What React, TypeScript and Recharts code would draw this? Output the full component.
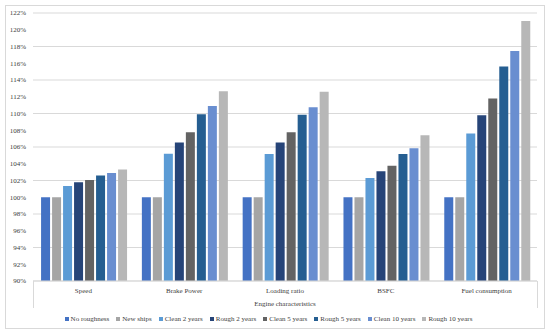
import React from "react";
import { BarChart, Bar, XAxis, YAxis, CartesianGrid, Legend } from "recharts";

const categories = ["Speed", "Brake Power", "Loading ratio", "BSFC", "Fuel consumption"];
const noRoughness = [100, 100, 100, 100, 100];
const newShips = [100, 100, 100, 100, 100];
const clean2 = [101.35, 105.2, 105.15, 102.3, 107.6];
const rough2 = [101.8, 106.55, 106.55, 103.1, 109.8];
const clean5 = [102.05, 107.75, 107.75, 103.75, 111.8];
const rough5 = [102.6, 109.9, 109.85, 105.15, 115.6];
const clean10 = [102.9, 110.9, 110.75, 105.85, 117.45];
const rough10 = [103.3, 112.65, 112.6, 107.4, 121.05];
const yTicks = [90, 92, 94, 96, 98, 100, 102, 104, 106, 108, 110, 112, 114, 116, 118, 120, 122];

const seriesDefs = [
  { key: "noRoughness", name: "No roughness", values: noRoughness, color: "#4472C4" },
  { key: "newShips", name: "New ships", values: newShips, color: "#A5A5A5" },
  { key: "clean2", name: "Clean 2 years", values: clean2, color: "#5B9BD5" },
  { key: "rough2", name: "Rough 2 years", values: rough2, color: "#264478" },
  { key: "clean5", name: "Clean 5 years", values: clean5, color: "#636363" },
  { key: "rough5", name: "Rough 5 years", values: rough5, color: "#255E91" },
  { key: "clean10", name: "Clean 10 years", values: clean10, color: "#698ED0" },
  { key: "rough10", name: "Rough 10 years", values: rough10, color: "#B7B7B7" },
];

const data = categories.map((c, i) => {
  const row: Record<string, string | number> = { category: c };
  seriesDefs.forEach((s) => {
    row[s.key] = s.values[i];
  });
  return row;
});

const font = "'Liberation Serif', 'DejaVu Serif', serif";
const textColor = "#404040";

const LegendContent = () => (
  <div
    style={{
      height: 18,
      paddingTop: 4,
      boxSizing: "border-box",
      display: "flex",
      justifyContent: "center",
      gap: 7,
      fontSize: 7,
      lineHeight: "10px",
      fontFamily: font,
      color: textColor,
      whiteSpace: "nowrap",
    }}
  >
    {seriesDefs.map((s) => (
      <span key={s.key} style={{ display: "inline-flex", alignItems: "center" }}>
        <span style={{ display: "inline-block", width: 4, height: 4, background: s.color, marginRight: 2 }} />
        {s.name}
      </span>
    ))}
  </div>
);

export default function App() {
  return (
    <div style={{ position: "absolute", left: 0, top: 0, width: 550, height: 333, background: "#fff" }}>
      <div style={{ position: "absolute", left: 0, top: 0 }}>
        <BarChart
          width={550}
          height={333}
          data={data}
          margin={{ top: 13, right: 13, left: 0, bottom: 7 }}
          barCategoryGap="8%"
          barGap={2}
        >
          <CartesianGrid vertical={false} stroke="#d9d9d9" />
          <XAxis
            dataKey="category"
            height={27}
            axisLine={{ stroke: "#d9d9d9" }}
            tickLine={false}
            tick={{ fontSize: 7, fill: textColor, fontFamily: font }}
            tickMargin={1}
            interval={0}
            label={{
              value: "Engine characteristics",
              position: "insideBottom",
              offset: 2,
              fontSize: 7,
              fill: textColor,
              fontFamily: font,
            }}
          />
          <YAxis
            width={33}
            domain={[90, 122]}
            ticks={yTicks}
            allowDataOverflow
            axisLine={false}
            tickLine={false}
            tickSize={5}
            tickMargin={2}
            tickFormatter={(v: number) => `${v}%`}
            tick={{ fontSize: 7, fill: textColor, fontFamily: font }}
          />
          <Legend verticalAlign="bottom" height={18} content={<LegendContent />} />
          {seriesDefs.map((s) => (
            <Bar key={s.key} dataKey={s.key} name={s.name} fill={s.color} isAnimationActive={false} />
          ))}
        </BarChart>
      </div>
      <div style={{ position: "absolute", zIndex: 5, left: 33, top: 281, width: 1, height: 27, background: "#d9d9d9" }} />
      <div style={{ position: "absolute", zIndex: 5, left: 537, top: 281, width: 1, height: 27, background: "#d9d9d9" }} />
      <div
        style={{
          position: "absolute",
          zIndex: 5,
          left: 5,
          top: 5,
          width: 538,
          height: 322,
          border: "1px solid #d9d9d9",
          pointerEvents: "none",
        }}
      />
    </div>
  );
}
